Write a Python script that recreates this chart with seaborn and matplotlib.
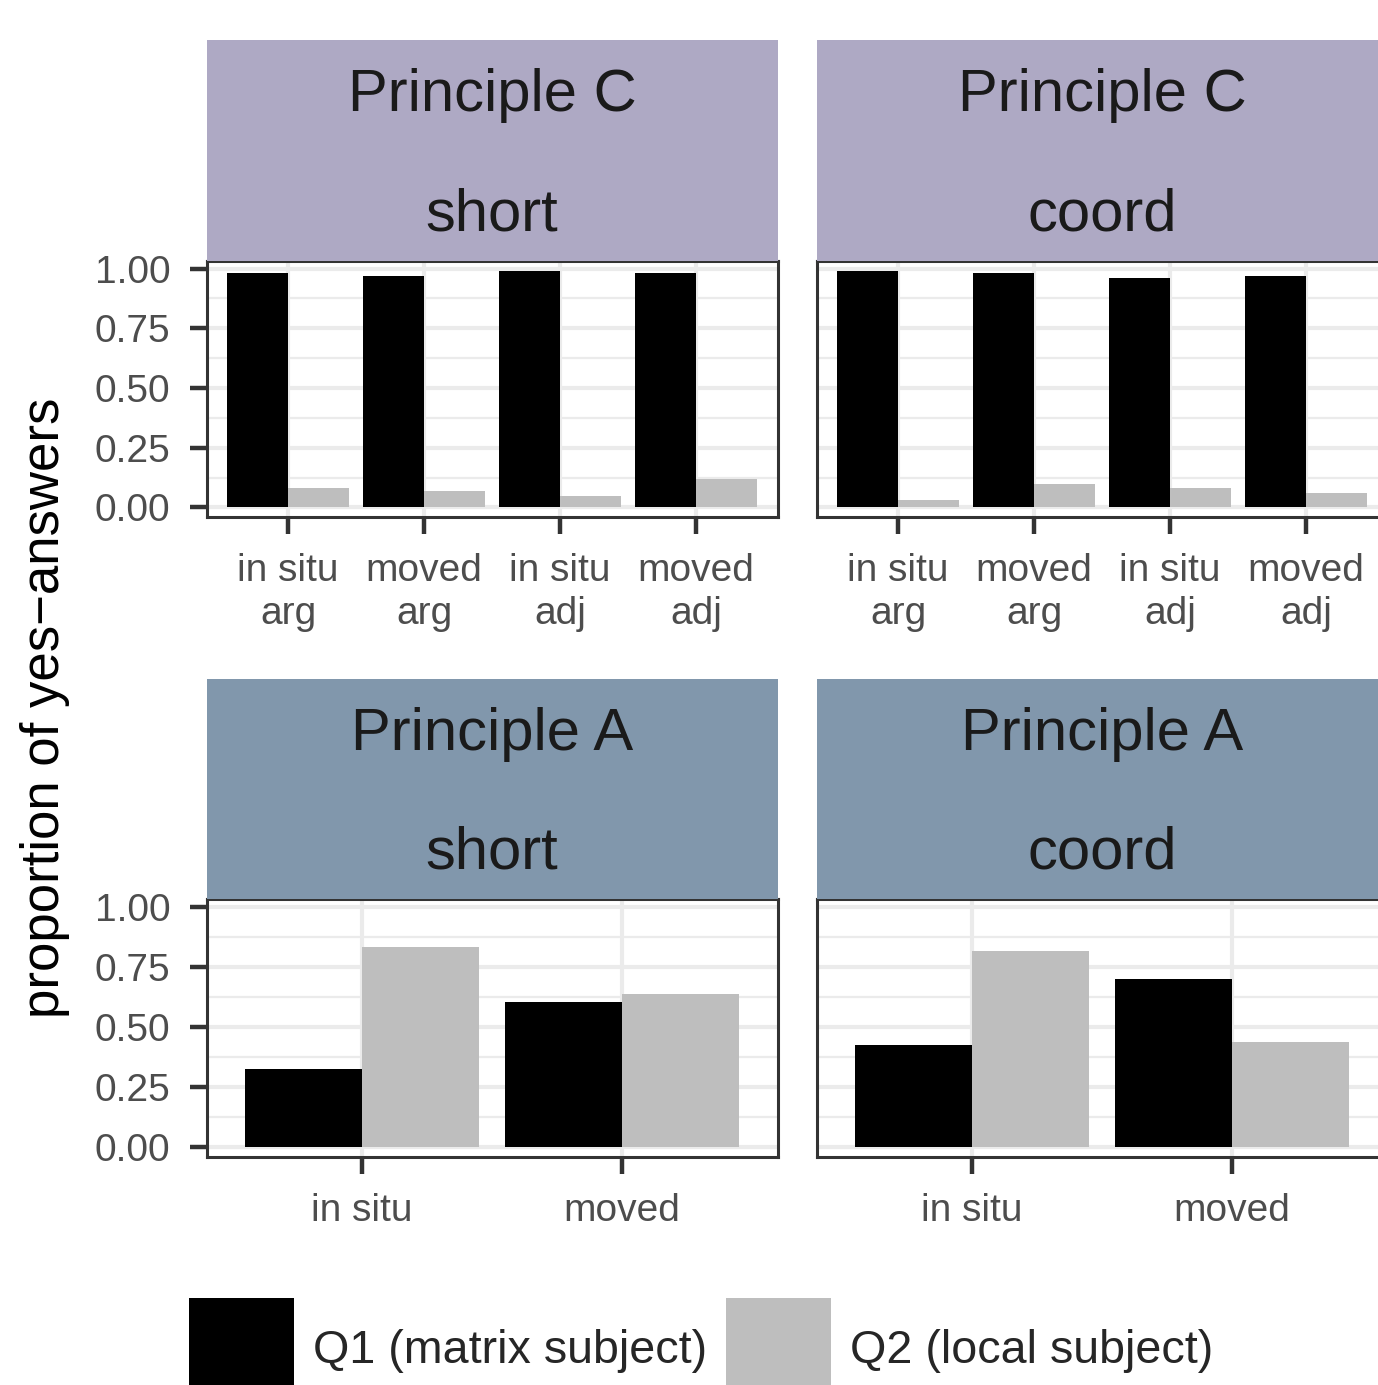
import numpy as np
import pandas as pd
import seaborn as sns
import matplotlib
matplotlib.use("Agg")
import matplotlib.pyplot as plt
from matplotlib.patches import Patch

# ---------------- data ----------------
conditions_c = ["in situ\narg", "moved\narg", "in situ\nadj", "moved\nadj"]
conditions_a = ["in situ", "moved"]
questions = ["Q1 (matrix subject)", "Q2 (local subject)"]

pc_short_q1 = [0.98, 0.97, 0.99, 0.98]
pc_short_q2 = [0.08, 0.07, 0.05, 0.12]
pc_coord_q1 = [0.99, 0.98, 0.96, 0.97]
pc_coord_q2 = [0.03, 0.10, 0.08, 0.06]
pa_short_q1 = [0.325, 0.605]
pa_short_q2 = [0.834, 0.638]
pa_coord_q1 = [0.425, 0.70]
pa_coord_q2 = [0.818, 0.438]

strip_principle = ["Principle C", "Principle C", "Principle A", "Principle A"]
strip_type = ["short", "coord", "short", "coord"]

# ---------------- style ----------------
sns.set_theme(style="white")
plt.rcParams["font.family"] = ["Liberation Sans", "DejaVu Sans"]

W, H = 1378, 1385
fig = plt.figure(figsize=(W / 100, H / 100), dpi=100)
fig.patch.set_facecolor("white")

palette = ["#000000", "#BEBEBE"]
strip_colors = ["#AEA9C4", "#AEA9C4", "#8197AC", "#8197AC"]
DARK = "#333333"
TICKC = "#4D4D4D"


def px_axes(x0, y0, x1, y1):
    return fig.add_axes([x0 / W, 1 - y1 / H, (x1 - x0) / W, (y1 - y0) / H])


def make_df(conds, q1, q2):
    return pd.DataFrame({
        "cond": conds * 2,
        "value": list(q1) + list(q2),
        "question": [questions[0]] * len(conds) + [questions[1]] * len(conds),
    })


panels = [
    (conditions_c, pc_short_q1, pc_short_q2, 206.5, 40, 261, 517, True),
    (conditions_c, pc_coord_q1, pc_coord_q2, 816.5, 40, 261, 517, False),
    (conditions_a, pa_short_q1, pa_short_q2, 206.5, 679, 899, 1157, True),
    (conditions_a, pa_coord_q1, pa_coord_q2, 816.5, 679, 899, 1157, False),
]

for i, (conds, q1, q2, x0, sy0, py0, py1, left) in enumerate(panels):
    pw = 571
    ax = px_axes(x0, py0, x0 + pw, py1)
    df = make_df(conds, q1, q2)
    sns.barplot(data=df, x="cond", y="value", hue="question", order=conds,
                hue_order=questions, palette=palette, width=0.9, gap=0,
                saturation=1, linewidth=0, errorbar=None, legend=False, ax=ax)
    n = len(conds)
    ax.set_xlim(-0.6, n - 1 + 0.6)
    ax.set_ylim(-0.04, 1.032)
    ax.set_yticks([0, 0.25, 0.5, 0.75, 1.0])
    ax.set_yticklabels(["0.00", "0.25", "0.50", "0.75", "1.00"])
    ax.set_yticks([0.125, 0.375, 0.625, 0.875], minor=True)
    ax.set_axisbelow(True)
    ax.grid(which="major", axis="both", color="#EBEBEB", lw=3.0)
    ax.grid(which="minor", axis="y", color="#EBEBEB", lw=1.6)
    ax.set_xlabel("")
    ax.set_ylabel("")
    for s in ax.spines.values():
        s.set_color(DARK)
        s.set_linewidth(2.2)
        s.set_visible(True)
    ax.tick_params(axis="both", which="major", length=12, width=3.2,
                   color=DARK, labelsize=28, labelcolor=TICKC)
    ax.tick_params(axis="y", which="major", pad=14, left=left, labelleft=left)
    ax.tick_params(axis="x", which="major", pad=14, bottom=True)
    ax.tick_params(which="minor", length=0)
    for lab in ax.get_xticklabels():
        lab.set_linespacing(1.24)

    # strip
    sax = px_axes(x0, sy0, x0 + pw, py0)
    sax.set_facecolor(strip_colors[i])
    sax.set_xticks([])
    sax.set_yticks([])
    for s in sax.spines.values():
        s.set_visible(False)
    sax.text(0.5, 0.679, strip_principle[i], transform=sax.transAxes,
             ha="center", va="baseline", fontsize=43, color="#1A1A1A")
    sax.text(0.5, 0.140, strip_type[i], transform=sax.transAxes,
             ha="center", va="baseline", fontsize=43, color="#1A1A1A")

fig.text(45 / W, 1 - 708 / H, "proportion of yes\u2212answers", rotation=90,
         ha="center", va="center", fontsize=38, color="black")

handles = [Patch(facecolor=palette[0], edgecolor="none"),
           Patch(facecolor=palette[1], edgecolor="none")]
fig.legend(handles=handles, labels=questions, ncol=2, loc="lower left",
           bbox_to_anchor=(189 / W, -0.011), frameon=False, fontsize=33.6,
           handlelength=2.25, handleheight=3.0, handletextpad=0.4,
           columnspacing=0.42, borderpad=0, borderaxespad=0)

fig.savefig("out.png", dpi=100)
